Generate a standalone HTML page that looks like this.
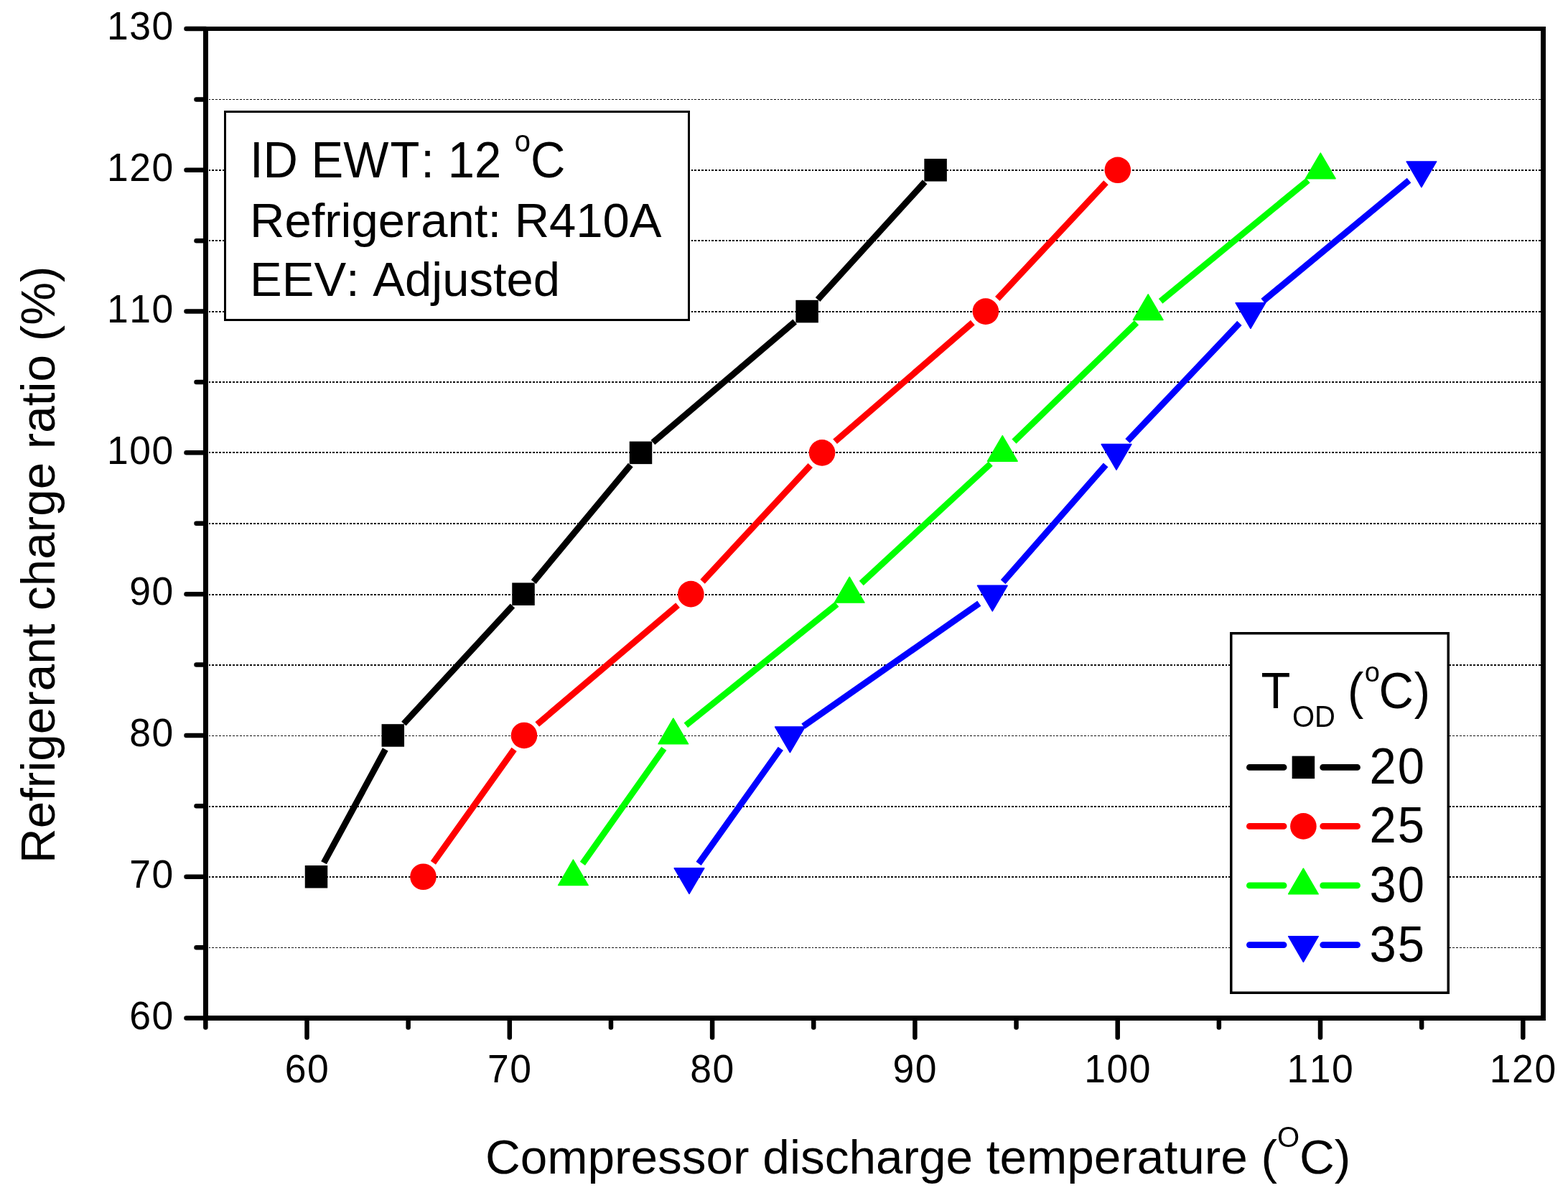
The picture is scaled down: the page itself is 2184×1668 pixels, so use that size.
<!DOCTYPE html>
<html><head><meta charset="utf-8"><title>Refrigerant charge ratio vs compressor discharge temperature</title>
<style>html,body{margin:0;padding:0;background:#fff;}body{width:2184px;height:1668px;overflow:hidden;}svg{display:block;}text{font-kerning:none;}</style>
</head><body>
<svg width="2184" height="1668" viewBox="0 0 2184 1668" font-family='"Liberation Sans", Arial, Helvetica, sans-serif' fill="#000"><line x1="291" y1="1319.5" x2="2146" y2="1319.5" stroke="#000" stroke-width="1" stroke-dasharray="2 2 3 2 3 2 3 2 3 2"/>
<line x1="291" y1="1221.0" x2="2146" y2="1221.0" stroke="#000" stroke-width="2" stroke-dasharray="2 2 3 2 3 2 3 2 3 2"/>
<line x1="291" y1="1123.0" x2="2146" y2="1123.0" stroke="#000" stroke-width="2" stroke-dasharray="2 2 3 2 3 2 3 2 3 2"/>
<line x1="291" y1="1024.5" x2="2146" y2="1024.5" stroke="#000" stroke-width="1" stroke-dasharray="2 2 3 2 3 2 3 2 3 2"/>
<line x1="291" y1="926.0" x2="2146" y2="926.0" stroke="#000" stroke-width="2" stroke-dasharray="2 2 3 2 3 2 3 2 3 2"/>
<line x1="291" y1="828.0" x2="2146" y2="828.0" stroke="#000" stroke-width="2" stroke-dasharray="2 2 3 2 3 2 3 2 3 2"/>
<line x1="291" y1="729.0" x2="2146" y2="729.0" stroke="#000" stroke-width="2" stroke-dasharray="2 2 3 2 3 2 3 2 3 2"/>
<line x1="291" y1="630.0" x2="2146" y2="630.0" stroke="#000" stroke-width="2" stroke-dasharray="2 2 3 2 3 2 3 2 3 2"/>
<line x1="291" y1="532.0" x2="2146" y2="532.0" stroke="#000" stroke-width="2" stroke-dasharray="2 2 3 2 3 2 3 2 3 2"/>
<line x1="291" y1="434.0" x2="2146" y2="434.0" stroke="#000" stroke-width="2" stroke-dasharray="2 2 3 2 3 2 3 2 3 2"/>
<line x1="291" y1="335.0" x2="2146" y2="335.0" stroke="#000" stroke-width="2" stroke-dasharray="2 2 3 2 3 2 3 2 3 2"/>
<line x1="291" y1="237.0" x2="2146" y2="237.0" stroke="#000" stroke-width="2" stroke-dasharray="2 2 3 2 3 2 3 2 3 2"/>
<line x1="291" y1="138.5" x2="2146" y2="138.5" stroke="#000" stroke-width="1" stroke-dasharray="2 2 3 2 3 2 3 2 3 2"/>
<path d="M451.09,1201.23L536.71,1043.46M562.36,1007.64L713.94,843.47M743.19,810.08L878.31,647.45M909.42,616.00L1107.18,447.95M1139.04,417.16L1288.16,253.21" stroke="#000000" stroke-width="8.8" stroke-linecap="butt" fill="none"/>
<rect x="424.75" y="1204.99" width="31.5" height="31.5" fill="#000000"/>
<rect x="531.55" y="1008.20" width="31.5" height="31.5" fill="#000000"/>
<rect x="713.25" y="811.41" width="31.5" height="31.5" fill="#000000"/>
<rect x="876.75" y="614.62" width="31.5" height="31.5" fill="#000000"/>
<rect x="1108.35" y="417.83" width="31.5" height="31.5" fill="#000000"/>
<rect x="1287.35" y="221.04" width="31.5" height="31.5" fill="#000000"/>
<path d="M603.39,1201.29L716.11,1043.40M748.24,1008.50L944.06,842.61M978.56,809.64L1128.74,647.89M1163.09,614.75L1354.81,449.20M1389.22,416.12L1540.48,254.25" stroke="#ff0000" stroke-width="8.8" stroke-linecap="butt" fill="none"/>
<circle cx="589.50" cy="1220.74" r="18.3" fill="#ff0000"/>
<circle cx="730.00" cy="1023.95" r="18.3" fill="#ff0000"/>
<circle cx="962.30" cy="827.16" r="18.3" fill="#ff0000"/>
<circle cx="1145.00" cy="630.37" r="18.3" fill="#ff0000"/>
<circle cx="1372.90" cy="433.58" r="18.3" fill="#ff0000"/>
<circle cx="1556.80" cy="236.79" r="18.3" fill="#ff0000"/>
<path d="M811.41,1202.38L924.79,1042.31M955.35,1009.87L1165.65,841.24M1199.73,811.90L1379.77,645.63M1412.45,614.71L1583.05,449.24M1616.60,419.32L1821.90,251.05" stroke="#00ff00" stroke-width="8.8" stroke-linecap="butt" fill="none"/>
<polygon points="798.40,1197.01 819.20,1232.61 777.60,1232.61" fill="#00ff00" stroke="#00ff00" stroke-width="1.5" stroke-linejoin="round"/>
<polygon points="937.80,1000.22 958.60,1035.82 917.00,1035.82" fill="#00ff00" stroke="#00ff00" stroke-width="1.5" stroke-linejoin="round"/>
<polygon points="1183.20,803.43 1204.00,839.03 1162.40,839.03" fill="#00ff00" stroke="#00ff00" stroke-width="1.5" stroke-linejoin="round"/>
<polygon points="1396.30,606.64 1417.10,642.24 1375.50,642.24" fill="#00ff00" stroke="#00ff00" stroke-width="1.5" stroke-linejoin="round"/>
<polygon points="1599.20,409.85 1620.00,445.45 1578.40,445.45" fill="#00ff00" stroke="#00ff00" stroke-width="1.5" stroke-linejoin="round"/>
<polygon points="1839.30,213.06 1860.10,248.66 1818.50,248.66" fill="#00ff00" stroke="#00ff00" stroke-width="1.5" stroke-linejoin="round"/>
<path d="M973.07,1202.42L1087.33,1042.27M1118.85,1011.07L1363.85,840.04M1397.14,810.25L1540.16,647.28M1570.49,614.06L1726.41,449.89M1759.24,419.24L1962.56,251.13" stroke="#0000ff" stroke-width="8.8" stroke-linecap="butt" fill="none"/>
<polygon points="960.00,1244.47 980.80,1208.87 939.20,1208.87" fill="#0000ff" stroke="#0000ff" stroke-width="1.5" stroke-linejoin="round"/>
<polygon points="1100.40,1047.68 1121.20,1012.08 1079.60,1012.08" fill="#0000ff" stroke="#0000ff" stroke-width="1.5" stroke-linejoin="round"/>
<polygon points="1382.30,850.89 1403.10,815.29 1361.50,815.29" fill="#0000ff" stroke="#0000ff" stroke-width="1.5" stroke-linejoin="round"/>
<polygon points="1555.00,654.10 1575.80,618.50 1534.20,618.50" fill="#0000ff" stroke="#0000ff" stroke-width="1.5" stroke-linejoin="round"/>
<polygon points="1741.90,457.31 1762.70,421.71 1721.10,421.71" fill="#0000ff" stroke="#0000ff" stroke-width="1.5" stroke-linejoin="round"/>
<polygon points="1979.90,260.52 2000.70,224.92 1959.10,224.92" fill="#0000ff" stroke="#0000ff" stroke-width="1.5" stroke-linejoin="round"/>
<rect x="313.5" y="155.5" width="646" height="290" fill="#fff" stroke="#000" stroke-width="3"/>
<text transform="translate(348.00,247.40) scale(1,1.0405)" font-size="67">ID EW<tspan dx="2">T</tspan><tspan dx="1.7">:</tspan> <tspan dx="0.3">12</tspan> <tspan font-size="40" dy="-34.98">o</tspan><tspan dy="34.98">C</tspan></text>
<text transform="translate(348.00,329.90)" font-size="67">Refrigerant: R410A</text>
<text transform="translate(348.00,412.40)" font-size="67">EEV: Adjusted</text>
<rect x="1714.75" y="881.75" width="302.5" height="500.5" fill="#fff" stroke="#000" stroke-width="3.5"/>
<text transform="translate(1756.50,986.00) scale(1,1.0405)" font-size="67">T<tspan font-size="40" dx="2.5" dy="24.70">OD</tspan><tspan dy="-24.70" dx="-1.5"> (</tspan><tspan font-size="38" dx="1.5" dy="-35.94">o</tspan><tspan dx="-1.5" dy="35.94">C</tspan><tspan dx="0.8">)</tspan></text>
<path d="M1740.4,1068.4L1788.1,1068.4M1842.7,1068.4L1890.5,1068.4" stroke="#000000" stroke-width="8.8" stroke-linecap="round"/>
<rect x="1799.65" y="1052.65" width="31.5" height="31.5" fill="#000000"/>
<text transform="translate(1907.50,1091.40) scale(1,1.0405)" font-size="67" letter-spacing="2">20</text>
<path d="M1740.4,1150.4L1788.1,1150.4M1842.7,1150.4L1890.5,1150.4" stroke="#ff0000" stroke-width="8.8" stroke-linecap="round"/>
<circle cx="1815.40" cy="1150.40" r="18.3" fill="#ff0000"/>
<text transform="translate(1907.50,1173.40) scale(1,1.0405)" font-size="67" letter-spacing="2">25</text>
<path d="M1740.4,1232.9L1788.1,1232.9M1842.7,1232.9L1890.5,1232.9" stroke="#00ff00" stroke-width="8.8" stroke-linecap="round"/>
<polygon points="1815.40,1209.17 1836.20,1244.77 1794.60,1244.77" fill="#00ff00" stroke="#00ff00" stroke-width="1.5" stroke-linejoin="round"/>
<text transform="translate(1907.50,1255.90) scale(1,1.0405)" font-size="67" letter-spacing="2">30</text>
<path d="M1740.4,1315.6L1788.1,1315.6M1842.7,1315.6L1890.5,1315.6" stroke="#0000ff" stroke-width="8.8" stroke-linecap="round"/>
<polygon points="1815.40,1339.33 1836.20,1303.73 1794.60,1303.73" fill="#0000ff" stroke="#0000ff" stroke-width="1.5" stroke-linejoin="round"/>
<text transform="translate(1907.50,1338.60) scale(1,1.0405)" font-size="67" letter-spacing="2">35</text>
<line x1="259.5" y1="1417.53" x2="286.5" y2="1417.53" stroke="#000" stroke-width="6.5" stroke-linecap="round"/>
<text transform="translate(242.70,1432.73) scale(1,1.035)" font-size="53.5" text-anchor="end" letter-spacing="1.5">60</text>
<line x1="259.5" y1="1220.74" x2="286.5" y2="1220.74" stroke="#000" stroke-width="6.5" stroke-linecap="round"/>
<text transform="translate(242.70,1235.94) scale(1,1.035)" font-size="53.5" text-anchor="end" letter-spacing="1.5">70</text>
<line x1="259.5" y1="1023.95" x2="286.5" y2="1023.95" stroke="#000" stroke-width="6.5" stroke-linecap="round"/>
<text transform="translate(242.70,1039.15) scale(1,1.035)" font-size="53.5" text-anchor="end" letter-spacing="1.5">80</text>
<line x1="259.5" y1="827.16" x2="286.5" y2="827.16" stroke="#000" stroke-width="6.5" stroke-linecap="round"/>
<text transform="translate(242.70,842.36) scale(1,1.035)" font-size="53.5" text-anchor="end" letter-spacing="1.5">90</text>
<line x1="259.5" y1="630.37" x2="286.5" y2="630.37" stroke="#000" stroke-width="6.5" stroke-linecap="round"/>
<text transform="translate(242.70,645.57) scale(1,1.035)" font-size="53.5" text-anchor="end" letter-spacing="1.5">100</text>
<line x1="259.5" y1="433.58" x2="286.5" y2="433.58" stroke="#000" stroke-width="6.5" stroke-linecap="round"/>
<text transform="translate(242.70,448.78) scale(1,1.035)" font-size="53.5" text-anchor="end" letter-spacing="1.5">110</text>
<line x1="259.5" y1="236.79" x2="286.5" y2="236.79" stroke="#000" stroke-width="6.5" stroke-linecap="round"/>
<text transform="translate(242.70,251.99) scale(1,1.035)" font-size="53.5" text-anchor="end" letter-spacing="1.5">120</text>
<line x1="259.5" y1="40.00" x2="286.5" y2="40.00" stroke="#000" stroke-width="6.5" stroke-linecap="round"/>
<text transform="translate(242.70,55.20) scale(1,1.035)" font-size="53.5" text-anchor="end" letter-spacing="1.5">130</text>
<line x1="273.5" y1="1319.13" x2="286.5" y2="1319.13" stroke="#000" stroke-width="6.5" stroke-linecap="round"/>
<line x1="273.5" y1="1122.35" x2="286.5" y2="1122.35" stroke="#000" stroke-width="6.5" stroke-linecap="round"/>
<line x1="273.5" y1="925.55" x2="286.5" y2="925.55" stroke="#000" stroke-width="6.5" stroke-linecap="round"/>
<line x1="273.5" y1="728.76" x2="286.5" y2="728.76" stroke="#000" stroke-width="6.5" stroke-linecap="round"/>
<line x1="273.5" y1="531.97" x2="286.5" y2="531.97" stroke="#000" stroke-width="6.5" stroke-linecap="round"/>
<line x1="273.5" y1="335.19" x2="286.5" y2="335.19" stroke="#000" stroke-width="6.5" stroke-linecap="round"/>
<line x1="273.5" y1="138.39" x2="286.5" y2="138.39" stroke="#000" stroke-width="6.5" stroke-linecap="round"/>
<line x1="427.50" y1="1417.5" x2="427.50" y2="1444.5" stroke="#000" stroke-width="6.5" stroke-linecap="round"/>
<text transform="translate(427.95,1507.00) scale(1,1.035)" font-size="53.5" text-anchor="middle" letter-spacing="1.5">60</text>
<line x1="709.80" y1="1417.5" x2="709.80" y2="1444.5" stroke="#000" stroke-width="6.5" stroke-linecap="round"/>
<text transform="translate(710.25,1507.00) scale(1,1.035)" font-size="53.5" text-anchor="middle" letter-spacing="1.5">70</text>
<line x1="992.10" y1="1417.5" x2="992.10" y2="1444.5" stroke="#000" stroke-width="6.5" stroke-linecap="round"/>
<text transform="translate(992.55,1507.00) scale(1,1.035)" font-size="53.5" text-anchor="middle" letter-spacing="1.5">80</text>
<line x1="1274.40" y1="1417.5" x2="1274.40" y2="1444.5" stroke="#000" stroke-width="6.5" stroke-linecap="round"/>
<text transform="translate(1274.85,1507.00) scale(1,1.035)" font-size="53.5" text-anchor="middle" letter-spacing="1.5">90</text>
<line x1="1556.70" y1="1417.5" x2="1556.70" y2="1444.5" stroke="#000" stroke-width="6.5" stroke-linecap="round"/>
<text transform="translate(1557.15,1507.00) scale(1,1.035)" font-size="53.5" text-anchor="middle" letter-spacing="1.5">100</text>
<line x1="1839.00" y1="1417.5" x2="1839.00" y2="1444.5" stroke="#000" stroke-width="6.5" stroke-linecap="round"/>
<text transform="translate(1839.45,1507.00) scale(1,1.035)" font-size="53.5" text-anchor="middle" letter-spacing="1.5">110</text>
<line x1="2121.30" y1="1417.5" x2="2121.30" y2="1444.5" stroke="#000" stroke-width="6.5" stroke-linecap="round"/>
<text transform="translate(2121.75,1507.00) scale(1,1.035)" font-size="53.5" text-anchor="middle" letter-spacing="1.5">120</text>
<line x1="286.35" y1="1417.5" x2="286.35" y2="1430.5" stroke="#000" stroke-width="6.5" stroke-linecap="round"/>
<line x1="568.65" y1="1417.5" x2="568.65" y2="1430.5" stroke="#000" stroke-width="6.5" stroke-linecap="round"/>
<line x1="850.95" y1="1417.5" x2="850.95" y2="1430.5" stroke="#000" stroke-width="6.5" stroke-linecap="round"/>
<line x1="1133.25" y1="1417.5" x2="1133.25" y2="1430.5" stroke="#000" stroke-width="6.5" stroke-linecap="round"/>
<line x1="1415.55" y1="1417.5" x2="1415.55" y2="1430.5" stroke="#000" stroke-width="6.5" stroke-linecap="round"/>
<line x1="1697.85" y1="1417.5" x2="1697.85" y2="1430.5" stroke="#000" stroke-width="6.5" stroke-linecap="round"/>
<line x1="1980.15" y1="1417.5" x2="1980.15" y2="1430.5" stroke="#000" stroke-width="6.5" stroke-linecap="round"/>
<rect x="283" y="37" width="7" height="1384" fill="#000"/>
<rect x="2146" y="37" width="7" height="1384" fill="#000"/>
<rect x="283" y="37" width="1870" height="6" fill="#000"/>
<rect x="283" y="1414" width="1870" height="7" fill="#000"/>
<text transform="translate(676.00,1634.20)" font-size="67.5">Compressor discharge temperature (<tspan font-size="40" dy="-37">O</tspan><tspan dy="37">C)</tspan></text>
<text transform="translate(76.00,1202.00) rotate(-90)" font-size="67.4">Refrigerant charge ratio (%)</text></svg>
</body></html>
